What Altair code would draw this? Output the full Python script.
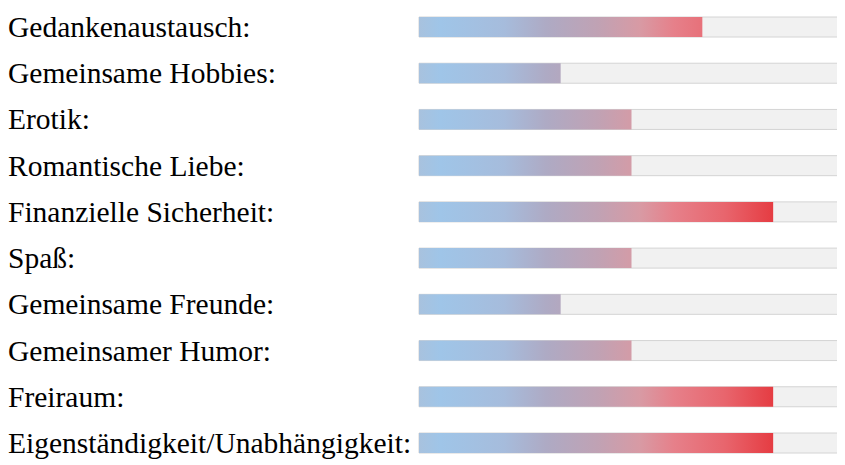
import altair as alt
import pandas as pd

labels = [
    "Gedankenaustausch:",
    "Gemeinsame Hobbies:",
    "Erotik:",
    "Romantische Liebe:",
    "Finanzielle Sicherheit:",
    "Spaß:",
    "Gemeinsame Freunde:",
    "Gemeinsamer Humor:",
    "Freiraum:",
    "Eigenständigkeit/Unabhängigkeit:",
]
values = [4, 2, 3, 3, 5, 3, 2, 3, 5, 5]
scale_max = 6

# full-track gradient (fraction of track -> colour)
grad_offsets = [0.0, 0.05, 0.2, 0.3, 0.42, 0.52, 0.6, 0.72, 0.84, 1.0]
grad_colors = ["#a8c2de", "#9fc5e8", "#a6bcdc", "#aeaac4", "#c0a2b4",
               "#d89aa4", "#e6808a", "#e8656d", "#e53a40", "#e02a30"]

df = pd.DataFrame({
    "i": list(range(len(labels))),
    "label": labels,
    "v": values,
    "zero": [0] * len(labels),
    "max": [scale_max] * len(labels),
})

xs = alt.Scale(domain=[0, scale_max], range=[411, 836])
ys = alt.Scale(domain=[0, len(labels) - 1], range=[14, 440])

base = alt.Chart(df)

track = base.mark_bar(size=20, orient="horizontal", fill="#f1f1f1",
                      stroke="#d4d4d4", strokeWidth=1).encode(
    x=alt.X("zero:Q", scale=xs, axis=None),
    x2="max:Q",
    y=alt.Y("i:Q", scale=ys, axis=None),
)

layers = [track]
for v in sorted(set(values)):
    grad = alt.Gradient(
        gradient="linear",
        x1=0, y1=0, x2=scale_max / v, y2=0,
        stops=[alt.GradientStop(offset=o, color=c) for o, c in zip(grad_offsets, grad_colors)],
    )
    layers.append(
        base.transform_filter(alt.datum.v == v).mark_bar(
            size=20, orient="horizontal", fill=grad
        ).encode(
            x=alt.X("zero:Q", scale=xs, axis=None),
            x2="v:Q",
            y=alt.Y("i:Q", scale=ys, axis=None),
        )
    )

text = base.mark_text(font="Liberation Serif", fontSize=29.5, align="left",
                      baseline="alphabetic", dy=10, color="#000000").encode(
    x=alt.value(0),
    y=alt.Y("i:Q", scale=ys, axis=None),
    text="label:N",
)
layers.append(text)

chart = alt.layer(*layers).properties(
    width=829, height=457, autosize=alt.AutoSizeParams(type="none"), padding=0
).configure_view(stroke=None)

chart.save("out.html", embed_options={"renderer": "svg", "actions": False})
